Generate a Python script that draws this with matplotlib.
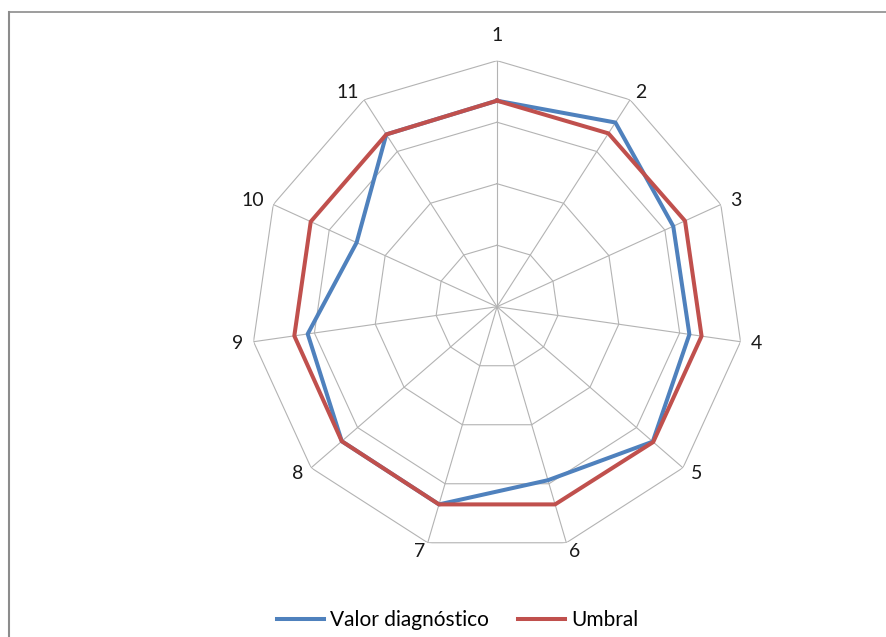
import matplotlib.pyplot as plt
import matplotlib.lines as mlines
import numpy as np

categories = ['1', '2', '3', '4', '5', '6', '7', '8', '9', '10', '11']
valorDiag = [3.35, 3.56, 3.15, 3.16, 3.35, 2.94, 3.35, 3.34, 3.11, 2.51, 3.33]
umbral = [3.35, 3.35, 3.36, 3.36, 3.36, 3.35, 3.35, 3.34, 3.33, 3.33, 3.33]
rings = [1, 2, 3, 4]

plt.rcParams['font.family'] = ['Lato', 'DejaVu Sans']

n = len(categories)
angles = np.linspace(0, 2 * np.pi, n, endpoint=False)
closedAngles = np.append(angles, angles[0])

def closed(vals):
    return np.append(vals, vals[0])

fig = plt.figure(figsize=(8.87, 6.37), dpi=100)
ax = fig.add_axes([0.283, 0.1323, 0.5547, 0.7724], projection='polar')
ax.set_theta_zero_location('N')
ax.set_theta_direction(-1)
ax.set_ylim(0, rings[-1])
ax.spines['polar'].set_visible(False)
ax.set_facecolor('none')

# spokes from the theta grid, rings drawn as polygons
ax.set_xticks(angles)
ax.set_xticklabels([])
ax.xaxis.grid(True, color='#b3b3b3', linewidth=0.8)
ax.set_yticks([])
ax.yaxis.grid(False)
for r in rings:
    ax.plot(closedAngles, closed([r] * n), color='#b3b3b3', linewidth=0.8, zorder=1)

# category labels placed excel-like next to the outer vertices
for a, cat in zip(angles, categories):
    sx, cy = np.sin(a), np.cos(a)
    if abs(sx) < 0.2:
        ha, dx, dy = 'center', 0, 25
    else:
        ha = 'left' if sx > 0 else 'right'
        dx, dy = 10 * sx, 9 * cy
    ax.annotate(cat, xy=(a, rings[-1]), xytext=(dx, dy), textcoords='offset pixels',
                ha=ha, va='center', fontsize=14, color='#1a1a1a')

ax.plot(closedAngles, closed(valorDiag), color='#4F81BD', linewidth=2.9,
        label='Valor diagnóstico', zorder=3)
ax.plot(closedAngles, closed(umbral), color='#C0504D', linewidth=2.9,
        label='Umbral', zorder=4)

fig.legend(loc='center', bbox_to_anchor=(0.516, 0.027), ncol=2, frameon=False,
           fontsize=15, handlelength=2.25, handletextpad=0.3, columnspacing=1.4)

# chart area border (cut off at right and bottom)
fig.add_artist(mlines.Line2D([9 / 887, 1], [1 - 12 / 637, 1 - 12 / 637],
                             color='#8c8c8c', linewidth=1.2, transform=fig.transFigure))
fig.add_artist(mlines.Line2D([9 / 887, 9 / 887], [0, 1 - 12 / 637],
                             color='#8c8c8c', linewidth=1.5, transform=fig.transFigure))

fig.savefig('out.png', dpi=100)
